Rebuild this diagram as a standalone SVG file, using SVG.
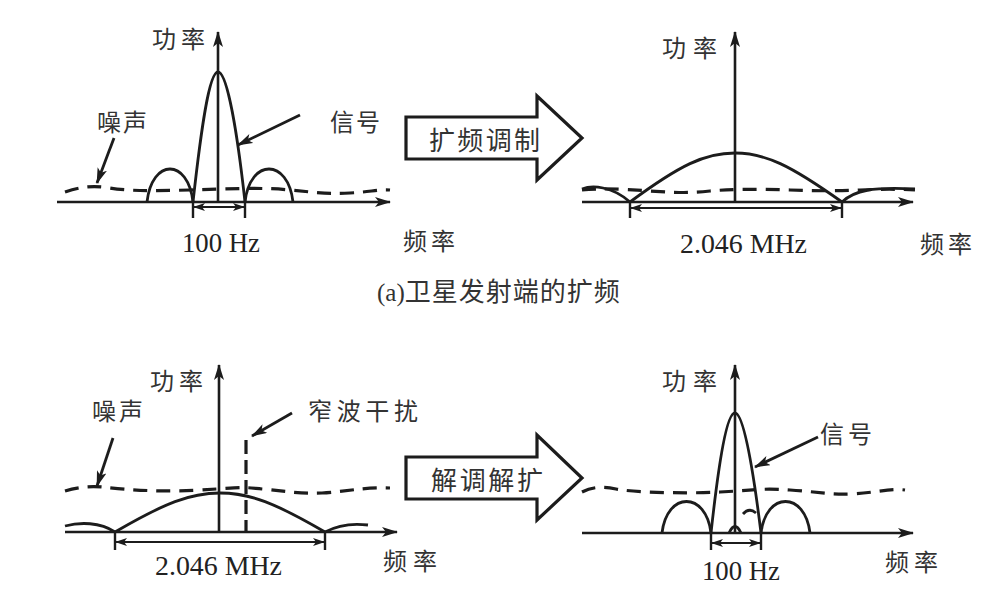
<svg xmlns="http://www.w3.org/2000/svg" width="1003" height="598" viewBox="0 0 1003 598">
<defs>
<marker id="ah" viewBox="0 0 16 10" refX="15" refY="5" markerWidth="16" markerHeight="10" markerUnits="userSpaceOnUse" orient="auto-start-reverse"><path d="M0,0 L16,5 L0,10 L4,5 Z" fill="#1c1c1c"/></marker>
<marker id="dh" viewBox="0 0 12 8" refX="11" refY="4" markerWidth="12" markerHeight="8" markerUnits="userSpaceOnUse" orient="auto-start-reverse"><path d="M0,0 L12,4 L0,8 L3,4 Z" fill="#1c1c1c"/></marker>
<style>
.ax{stroke:#1c1c1c;stroke-width:2.6;fill:none}
.cv{stroke:#1c1c1c;stroke-width:2.8;fill:none}
.ns{stroke:#1c1c1c;stroke-width:3.2;fill:none;stroke-dasharray:14 9}
.tk{stroke:#1c1c1c;stroke-width:2.4;fill:none}
.dm{stroke:#1c1c1c;stroke-width:2;fill:none}
.pt{stroke:#1c1c1c;stroke-width:2.8;fill:none}
.big{stroke:#1c1c1c;stroke-width:3.2;fill:#fff}
.zh{font-family:"Noto Sans CJK SC","Noto Sans CJK JP",sans-serif;font-size:24px;fill:#333}
.zb{font-family:"Noto Sans CJK SC","Noto Sans CJK JP",sans-serif;font-size:26px;fill:#333}
.num{font-family:"Liberation Serif",serif;font-size:28px;fill:#222}
.cap{font-family:"Noto Sans CJK SC","Noto Sans CJK JP",sans-serif;font-size:26px;fill:#333}
.capa{font-family:"Liberation Serif",serif;font-size:25px;fill:#333}
</style>
</defs>
<rect width="1003" height="598" fill="#fff"/>

<g id="panel1">
<path class="ns" d="M65,192 C80,187 92,185 110,188 S150,191 190,190 S260,187 290,190 S330,194 350,193 S380,189 390,190"/>
<path class="cv" d="M147,202 C152,158 188,158 193,202"/>
<path class="cv" d="M245,202 C250,158 288,158 293,202"/>
<path class="cv" d="M193,202 C201,130 209,72 218,72 C227,72 237,130 245,202"/>
<line class="ax" x1="57" y1="202" x2="390" y2="202" marker-end="url(#ah)"/>
<line class="ax" x1="218" y1="202" x2="218" y2="32" marker-end="url(#ah)"/>
<path class="tk" d="M193,202 V218 M245,202 V218"/>
<line class="dm" x1="194" y1="207" x2="244" y2="207" marker-start="url(#dh)" marker-end="url(#dh)"/>
<text class="zh" x="152" y="48" textLength="53" lengthAdjust="spacing">功率</text>
<text class="zh" x="97" y="131" textLength="50" lengthAdjust="spacing">噪声</text>
<text class="zh" x="330" y="131" textLength="50" lengthAdjust="spacing">信号</text>
<text class="zh" x="403" y="250" textLength="52" lengthAdjust="spacing">频率</text>
<text class="num" x="182" y="252" textLength="78" lengthAdjust="spacingAndGlyphs">100 Hz</text>
</g>

<g id="arrow1">
<path class="big" d="M406,117 L537,117 L537,96 L582,138 L537,180 L537,159 L406,159 Z"/>
<text class="zb" x="429" y="150" textLength="111" lengthAdjust="spacing">扩频调制</text>
</g>

<g id="panel2">
<path class="ns" d="M582,190 C600,188 620,189 650,191 S690,193 710,191 S760,189 790,190 S840,191 860,190 S900,189 915,190"/>
<path class="cv" d="M582,189 C592,185 612,186 630,202"/>
<path class="cv" d="M842,202 C855,190 872,187 915,189"/>
<path class="cv" d="M630,202 C680,165 705,153 735,153 C765,153 790,165 842,202"/>
<line class="ax" x1="582" y1="202" x2="913" y2="202" marker-end="url(#ah)"/>
<line class="ax" x1="735" y1="202" x2="735" y2="32" marker-end="url(#ah)"/>
<path class="tk" d="M630,202 V218 M842,202 V218"/>
<line class="dm" x1="631" y1="208" x2="841" y2="208" marker-start="url(#dh)" marker-end="url(#dh)"/>
<text class="zh" x="662" y="57" textLength="55" lengthAdjust="spacing">功率</text>
<text class="zh" x="920" y="253" textLength="52" lengthAdjust="spacing">频率</text>
<text class="num" x="680" y="253" textLength="127" lengthAdjust="spacingAndGlyphs">2.046 MHz</text>
</g>

<text id="caption" x="377" y="301"><tspan class="capa">(a)</tspan><tspan class="cap" letter-spacing="1">卫星发射端的扩频</tspan></text>

<g id="panel3">
<path class="ns" d="M65,491 C78,487 90,486 102,487 S150,493 200,490 S240,487 262,489 S300,494 322,493 S362,487 390,488"/>
<path class="ns" d="M246,440 V532" style="stroke-dasharray:14 6"/>
<path class="cv" d="M65,526 C80,522 100,522 115,532"/>
<path class="cv" d="M325,532 C338,525 352,523 368,525"/>
<path class="cv" d="M115,532 C165,503 190,493 220,493 C250,493 275,503 325,532"/>
<line class="ax" x1="65" y1="532" x2="397" y2="532" marker-end="url(#ah)"/>
<line class="ax" x1="219" y1="532" x2="219" y2="365" marker-end="url(#ah)"/>
<path class="tk" d="M115,532 V550 M325,532 V550"/>
<line class="dm" x1="116" y1="542" x2="324" y2="542" marker-start="url(#dh)" marker-end="url(#dh)"/>
<text class="zh" x="150" y="390" textLength="53" lengthAdjust="spacing">功率</text>
<text class="zh" x="92" y="420" textLength="51" lengthAdjust="spacing">噪声</text>
<text class="zh" x="308" y="420" textLength="110" lengthAdjust="spacing">窄波干扰</text>
<text class="zh" x="383" y="570" textLength="54" lengthAdjust="spacing">频率</text>
<text class="num" x="155" y="575" textLength="127" lengthAdjust="spacingAndGlyphs">2.046 MHz</text>
</g>

<g id="arrow2">
<path class="big" d="M406,457 L537,457 L537,435 L582,478 L537,520 L537,499 L406,499 Z"/>
<text class="zb" x="431" y="490" textLength="112" lengthAdjust="spacing">解调解扩</text>
</g>

<g id="panel4">
<path class="ns" d="M582,492 C592,487 602,486 616,489 S680,494 720,492 S760,488 790,490 S830,495 852,494 S890,488 905,490"/>
<path class="cv" d="M662,533 C667,491 706,491 711,533"/>
<path class="cv" d="M761,533 C766,491 805,491 810,533"/>
<path class="cv" d="M743,514 Q749,507 756,513"/>
<path class="cv" d="M729,533 Q735,520 741,533"/>
<path class="cv" d="M711,533 C719,460 727,413 735,413 C743,413 752,460 761,533"/>
<line class="ax" x1="582" y1="533" x2="913" y2="533" marker-end="url(#ah)"/>
<line class="ax" x1="735" y1="533" x2="735" y2="365" marker-end="url(#ah)"/>
<path class="tk" d="M711,533 V550 M761,533 V550"/>
<line class="dm" x1="712" y1="543" x2="760" y2="543" marker-start="url(#dh)" marker-end="url(#dh)"/>
<text class="zh" x="662" y="390" textLength="55" lengthAdjust="spacing">功率</text>
<text class="zh" x="820" y="443" textLength="52" lengthAdjust="spacing">信号</text>
<text class="zh" x="885" y="571" textLength="53" lengthAdjust="spacing">频率</text>
<text class="num" x="702" y="580" textLength="78" lengthAdjust="spacingAndGlyphs">100 Hz</text>
</g>

<g id="connectors">
<line class="pt" x1="114" y1="138" x2="97" y2="183" marker-end="url(#ah)"/>
<line class="pt" x1="300" y1="115" x2="238" y2="145" marker-end="url(#ah)"/>
<line class="pt" x1="113" y1="438" x2="97" y2="486" marker-end="url(#ah)"/>
<line class="pt" x1="292" y1="413" x2="252" y2="436" marker-end="url(#ah)"/>
<line class="pt" x1="818" y1="437" x2="755" y2="467" marker-end="url(#ah)"/>
</g>
</svg>
